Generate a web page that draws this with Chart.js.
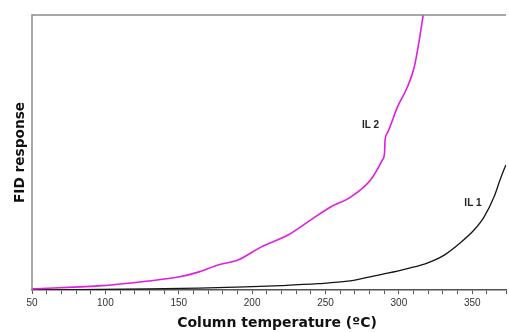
<!DOCTYPE html>
<html>
<head>
<meta charset="utf-8">
<script src="https://cdn.jsdelivr.net/npm/chart.js@4"></script>
<style>
  html, body { margin: 0; padding: 0; background: #fff; }
  #wrap { width: 509px; height: 332px; }
</style>
</head>
<body>
<div id="wrap"><canvas id="fid" width="509" height="332"></canvas></div>
<script>
// column temperature (C) and FID response (arbitrary units, 0-100)
const il2Temp = [50, 95.5, 129.4, 149.7, 163.3, 176.9, 190.4, 206, 224.4, 240, 253.5, 267.1, 280.7, 288.8, 290.2, 290.6, 292.2, 299, 305.8, 310.5, 313.9, 316.6];
const il2Resp = [0.4, 1.5, 3.3, 4.7, 6.5, 9.1, 10.9, 15.6, 20, 25.5, 30.2, 33.8, 40, 47.3, 49.8, 54.5, 57.1, 66.5, 73.8, 81.1, 90.9, 100];

const il1Temp = [50, 95.5, 129.4, 163.3, 195.2, 220, 245, 265.1, 278.6, 292.2, 305.8, 319.3, 330.9, 341.7, 351.2, 358, 364.8, 368.9, 372.9];
const il1Resp = [0, 0.2, 0.4, 0.7, 1.1, 1.6, 2.3, 3.2, 4.6, 6.1, 7.8, 9.8, 12.7, 17.1, 21.8, 26.5, 33.8, 40, 45.5];

const seriesLabels = ['IL 2', 'IL 1'];
const labelSpots = [{x: 280.7, y: 60}, {x: 350.5, y: 31.6}];
const yTitle = 'FID response';
const xTitle = 'Column temperature (ºC)';

const toPoints = (xs, ys) => xs.map((x, i) => ({x: x, y: ys[i]}));

const frameAndLabels = {
  id: 'frameAndLabels',
  afterDatasetsDraw(chart) {
    const {ctx, chartArea, scales} = chart;
    ctx.save();
    ctx.strokeStyle = '#8a8a8a';
    ctx.lineWidth = 1.5;
    ctx.beginPath();
    ctx.moveTo(chartArea.left, chartArea.bottom);
    ctx.lineTo(chartArea.left, chartArea.top);
    ctx.lineTo(chartArea.right, chartArea.top);
    ctx.stroke();

    ctx.fillStyle = '#222';
    ctx.font = 'bold 10px "Liberation Sans", Arial, sans-serif';
    ctx.textAlign = 'center';
    ctx.textBaseline = 'middle';
    seriesLabels.forEach((txt, i) => {
      ctx.fillText(txt, scales.x.getPixelForValue(labelSpots[i].x), scales.y.getPixelForValue(labelSpots[i].y));
    });

    // axis titles, placed by hand like in the scanned figure
    ctx.fillStyle = '#111';
    ctx.font = 'bold 14px "DejaVu Sans", Verdana, sans-serif';
    ctx.fillText(xTitle, (chartArea.left + chartArea.right) / 2 + 8, chart.height - 9);

    ctx.font = 'bold 13.7px "DejaVu Sans", Verdana, sans-serif';
    ctx.translate(chartArea.left - 12, (chartArea.top + chartArea.bottom) / 2);
    ctx.rotate(-Math.PI / 2);
    ctx.fillText(yTitle, 0, 0);
    ctx.restore();
  }
};

const chart = new Chart(document.getElementById('fid'), {
  type: 'line',
  data: {
    datasets: [
      {
        label: seriesLabels[0],
        data: toPoints(il2Temp, il2Resp),
        borderColor: '#e01ee0',
        borderWidth: 1.6,
        pointRadius: 0,
        cubicInterpolationMode: 'monotone',
        fill: false
      },
      {
        label: seriesLabels[1],
        data: toPoints(il1Temp, il1Resp),
        borderColor: '#151515',
        borderWidth: 1.3,
        pointRadius: 0,
        cubicInterpolationMode: 'monotone',
        fill: false
      }
    ]
  },
  options: {
    responsive: false,
    animation: false,
    layout: {padding: {top: 15, right: 0, left: 32, bottom: 20}},
    plugins: {
      legend: {display: false},
      tooltip: {enabled: false}
    },
    scales: {
      x: {
        type: 'linear',
        min: 50,
        max: 373,
        border: {display: true, color: '#555', width: 1.5},
        grid: {display: true, drawOnChartArea: false, tickLength: 4, color: '#555'},
        ticks: {
          stepSize: 10,
          autoSkip: false,
          maxRotation: 0,
          padding: 3,
          color: '#333',
          font: {family: '"Liberation Sans", Arial, sans-serif', size: 10},
          callback: v => (v % 50 === 0 ? v : '')
        }
      },
      y: {
        display: false,
        min: 0,
        max: 100
      }
    }
  },
  plugins: [frameAndLabels]
});
</script>
</body>
</html>
